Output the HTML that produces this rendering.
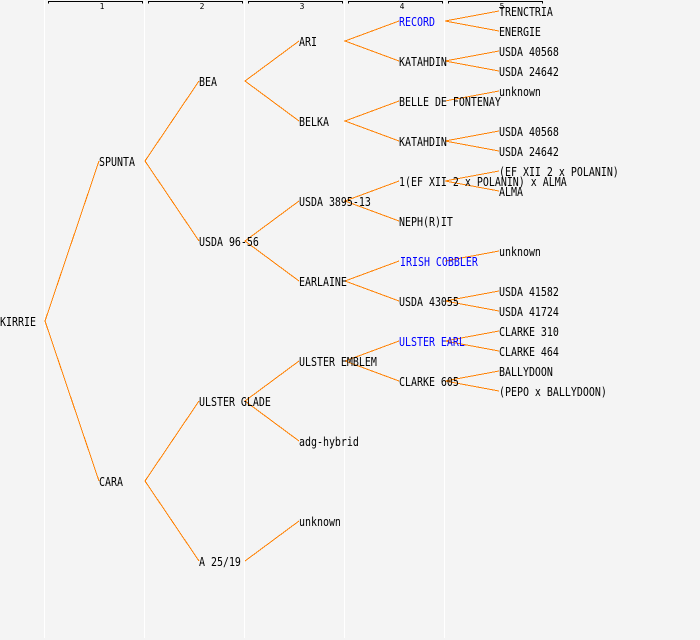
<!DOCTYPE html>
<html><head><meta charset="utf-8"><style>
html,body{margin:0;padding:0;background:#f4f4f4}
svg{display:block}
text{font-family:"DejaVu Sans Mono","Liberation Mono",monospace;font-size:12px;fill:#000;transform-box:fill-box;transform-origin:0% 100%;transform:scaleX(.83)}
text.b{fill:#0000ff}
text.n{font-size:8px;transform:none}
</style></head><body>
<svg width="700" height="640" viewBox="0 0 700 640" xmlns="http://www.w3.org/2000/svg">
<rect width="700" height="640" fill="#f4f4f4"/>
<g fill="#fff"><rect x="44" y="0" width="1" height="638"/><rect x="144" y="0" width="1" height="638"/><rect x="244" y="0" width="1" height="638"/><rect x="344" y="0" width="1" height="638"/><rect x="444" y="0" width="1" height="638"/></g>
<g fill="none" stroke="#000" shape-rendering="crispEdges">
<path d="M48.500 3.500V1.500H142.500V3.500"/><path d="M148.500 3.500V1.500H242.500V3.500"/><path d="M248.500 3.500V1.500H342.500V3.500"/><path d="M348.500 3.500V1.500H442.500V3.500"/><path d="M448.500 3.500V1.500H542.500V3.500"/>
</g>
<g text-anchor="middle"><text class="n" x="102" y="9">1</text><text class="n" x="202" y="9">2</text><text class="n" x="302" y="9">3</text><text class="n" x="402" y="9">4</text><text class="n" x="502" y="9">5</text></g>
<g fill="none" stroke="#ff8000" stroke-width="1" shape-rendering="crispEdges">
<path d="M99 161L45 321L99 481"/>
<path d="M199 81L145 161L199 241"/>
<path d="M199 401L145 481L199 561"/>
<path d="M299 41L245 81L299 121"/>
<path d="M299 201L245 241L299 281"/>
<path d="M299 361L245 401L299 441"/>
<path d="M299 521L245 561"/>
<path d="M399 21L345 41L399 61"/>
<path d="M399 101L345 121L399 141"/>
<path d="M399 181L345 201L399 221"/>
<path d="M399 261L345 281L399 301"/>
<path d="M399 341L345 361L399 381"/>
<path d="M499 11L445 21L499 31"/>
<path d="M499 51L445 61L499 71"/>
<path d="M499 91L445 101"/>
<path d="M499 131L445 141L499 151"/>
<path d="M499 171L445 181L499 191"/>
<path d="M499 251L445 261"/>
<path d="M499 291L445 301L499 311"/>
<path d="M499 331L445 341L499 351"/>
<path d="M499 371L445 381L499 391"/>
</g>
<text x="0" y="326">KIRRIE</text>
<text x="99" y="166">SPUNTA</text>
<text x="99" y="486">CARA</text>
<text x="199" y="86">BEA</text>
<text x="199" y="246">USDA 96-56</text>
<text x="199" y="406">ULSTER GLADE</text>
<text x="199" y="566">A 25/19</text>
<text x="299" y="46">ARI</text>
<text x="299" y="126">BELKA</text>
<text x="299" y="206">USDA 3895-13</text>
<text x="299" y="286">EARLAINE</text>
<text x="299" y="366">ULSTER EMBLEM</text>
<text x="299" y="446">adg-hybrid</text>
<text x="299" y="526">unknown</text>
<text class="b" x="399" y="26">RECORD</text>
<text x="399" y="66">KATAHDIN</text>
<text x="399" y="106">BELLE DE FONTENAY</text>
<text x="399" y="146">KATAHDIN</text>
<text x="399" y="186">1(EF XII 2 x POLANIN) x ALMA</text>
<text x="399" y="226">NEPH(R)IT</text>
<text class="b" x="400" y="266">IRISH COBBLER</text>
<text x="399" y="306">USDA 43055</text>
<text class="b" x="399" y="346">ULSTER EARL</text>
<text x="399" y="386">CLARKE 605</text>
<text x="499" y="16">TRENCTRIA</text>
<text x="499" y="36">ENERGIE</text>
<text x="499" y="56">USDA 40568</text>
<text x="499" y="76">USDA 24642</text>
<text x="499" y="96">unknown</text>
<text x="499" y="136">USDA 40568</text>
<text x="499" y="156">USDA 24642</text>
<text x="499" y="176">(EF XII 2 x POLANIN)</text>
<text x="499" y="196">ALMA</text>
<text x="499" y="256">unknown</text>
<text x="499" y="296">USDA 41582</text>
<text x="499" y="316">USDA 41724</text>
<text x="499" y="336">CLARKE 310</text>
<text x="499" y="356">CLARKE 464</text>
<text x="499" y="376">BALLYDOON</text>
<text x="499" y="396">(PEPO x BALLYDOON)</text>
</svg>
</body></html>
